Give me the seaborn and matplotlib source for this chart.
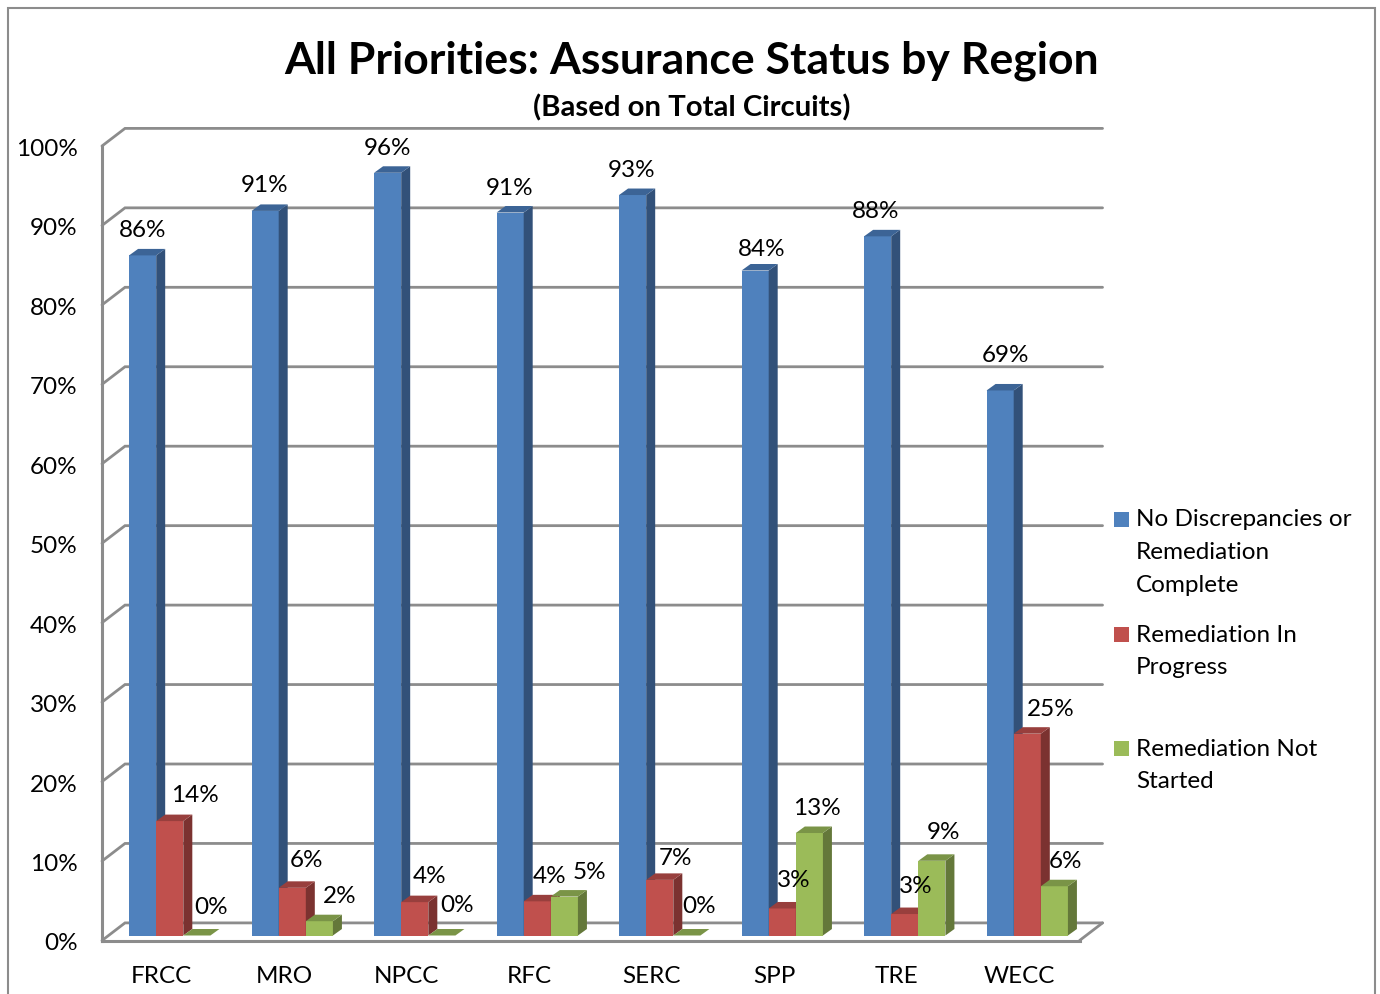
import matplotlib
matplotlib.use('Agg')
import matplotlib.pyplot as plt
from matplotlib.patches import Polygon, Rectangle
from matplotlib.transforms import Affine2D
import seaborn as sns
import pandas as pd

regions = ['FRCC', 'MRO', 'NPCC', 'RFC', 'SERC', 'SPP', 'TRE', 'WECC']
status = ['No Discrepancies or Remediation Complete',
          'Remediation In Progress',
          'Remediation Not Started']
no_discrepancies = [85.6, 91.2, 96.0, 91.0, 93.2, 83.7, 88.0, 68.6]
in_progress = [14.4, 6.0, 4.2, 4.3, 7.0, 3.4, 2.7, 25.4]
not_started = [0.0, 1.8, 0.0, 4.9, 0.0, 12.9, 9.4, 6.2]
y_ticks = [0, 10, 20, 30, 40, 50, 60, 70, 80, 90, 100]

legend_lines = ['No Discrepancies or\nRemediation\nComplete',
                'Remediation In\nProgress',
                'Remediation Not\nStarted']
front_colors = ['#4f81bd', '#c0504d', '#9bbb59']
side_colors = ['#325179', '#7b3230', '#64783a']
top_colors = ['#3c6496', '#983f3d', '#7a9447']
grid_color = '#8c8c8c'

# label nudges in pixels, one per bar (the original was placed by hand)
label_dx = [[0, -1, 0, -1, -1, 7, -2, 5],
            [25, 14, 15, 12, 16, 11, 11, 23],
            [14, 20, 15, 25, 12, 8, 12, 11]]
label_dy = [[25, 25, 24, 24, 25, 21, 25, 35],
            [26, 27, 26, 25, 21, 28, 28, 24],
            [28, 25, 30, 24, 29, 25, 28, 25]]

sns.set_style('white')
plt.rcParams['font.family'] = ['Lato', 'DejaVu Sans']

W, H = 1380, 994
fig = plt.figure(figsize=(W / 100, H / 100), dpi=100)
ax = fig.add_axes([102 / W, 1 - 940.5 / H, 980 / W, 794.5 / H])

df = pd.DataFrame({
    'region': regions * 3,
    'status': [s for s in status for _ in regions],
    'value': no_discrepancies + in_progress + not_started,
})
sns.barplot(data=df, x='region', y='value', hue='status', order=regions,
            hue_order=status, palette=front_colors, saturation=1, width=0.664,
            gap=0, errorbar=None, legend=False, linewidth=0, ax=ax)

ax.set_xlim(-0.5, 7.5)
ax.set_ylim(0, 100)
ax.set_xlabel('')
ax.set_ylabel('')

px_x = 980 / 8  # pixels per category
px_y = 794.5 / 100  # pixels per percent

# walls and gridlines
wall_dx, wall_dy = 23 / px_x, 17.6 / px_y
floor_end = 7.48
for t in y_ticks:
    ax.plot([-0.5, -0.5 + wall_dx, floor_end + wall_dx], [t, t + wall_dy, t + wall_dy],
            color=grid_color, lw=2, clip_on=False, zorder=1,
            solid_joinstyle='miter')
ax.plot([floor_end, floor_end + wall_dx], [0, wall_dy], color=grid_color, lw=2,
        clip_on=False, zorder=1)

sns.despine(ax=ax)
for side in ['left', 'bottom']:
    ax.spines[side].set_color(grid_color)
    ax.spines[side].set_linewidth(2.2)
ax.spines['bottom'].set_bounds(-0.5, floor_end)

ax.set_yticks(y_ticks)
ax.set_yticklabels([f'{t}%' for t in y_ticks])
ax.tick_params(axis='y', length=0, pad=17.5, labelsize=17.5, labelcolor='black')
ax.tick_params(axis='x', length=0, pad=18.5, labelsize=17.5, labelcolor='black')
for lab in ax.get_xticklabels():
    lab.set_transform(lab.get_transform() + Affine2D().translate(-1.5, 0))
for lab in ax.get_yticklabels():
    lab.set_transform(lab.get_transform() + Affine2D().translate(0, -1.5))

# fake the 3D look: bars sit a bit behind the front plane
shift = ax.transData + Affine2D().translate(6.5, 5)
bar_dx, bar_dy = 9 / px_x, 6.5 / px_y
for i, cont in enumerate(ax.containers):
    for j, bar in enumerate(cont.patches):
        x0, w, h = bar.get_x(), bar.get_width(), bar.get_height()
        x1 = x0 + w
        bar.set_transform(shift)
        bar.set_clip_on(False)
        bar.set_zorder(3 + i)
        side = Polygon([(x1, 0), (x1 + bar_dx, bar_dy), (x1 + bar_dx, h + bar_dy), (x1, h)],
                       facecolor=side_colors[i], edgecolor='none', transform=shift,
                       clip_on=False, zorder=3 + i)
        top = Polygon([(x0, h), (x1, h), (x1 + bar_dx, h + bar_dy), (x0 + bar_dx, h + bar_dy)],
                      facecolor=top_colors[i], edgecolor='none', transform=shift,
                      clip_on=False, zorder=3 + i)
        ax.add_patch(side)
        ax.add_patch(top)
        ax.annotate(f'{h:.0f}%', xy=(x0 + w / 2, h), xycoords=shift,
                    xytext=(label_dx[i][j], label_dy[i][j]), textcoords='offset pixels',
                    ha='center', va='center', fontsize=17.5, color='black', zorder=10)

# titles
fig.text(691.5 / W, 1 - 61 / H, 'All Priorities: Assurance Status by Region',
         ha='center', va='center', fontsize=32, fontweight='bold', color='black')
fig.text(691.5 / W, 1 - 108 / H, '(Based on Total Circuits)',
         ha='center', va='center', fontsize=21.2, fontweight='bold', color='black')

# legend drawn by hand, markers sit on the first text line
legend_y = [519, 634, 748]
for name, col, ly in zip(legend_lines, front_colors, legend_y):
    fig.add_artist(Rectangle((1114 / W, 1 - (ly + 7.5) / H), 15 / W, 15 / H,
                             facecolor=col, edgecolor='none', transform=fig.transFigure))
    fig.text(1136 / W, 1 - (ly - 9.5) / H, name, ha='left', va='top',
             fontsize=17.5, linespacing=1.68, color='black')

# chart border, the bottom edge runs off the picture
fig.add_artist(Rectangle((8 / W, -0.01), 1367 / W, 1.01 - 7.5 / H, facecolor='none',
                         edgecolor=grid_color, lw=1.5, transform=fig.transFigure))

fig.savefig('out.png', dpi=100)
